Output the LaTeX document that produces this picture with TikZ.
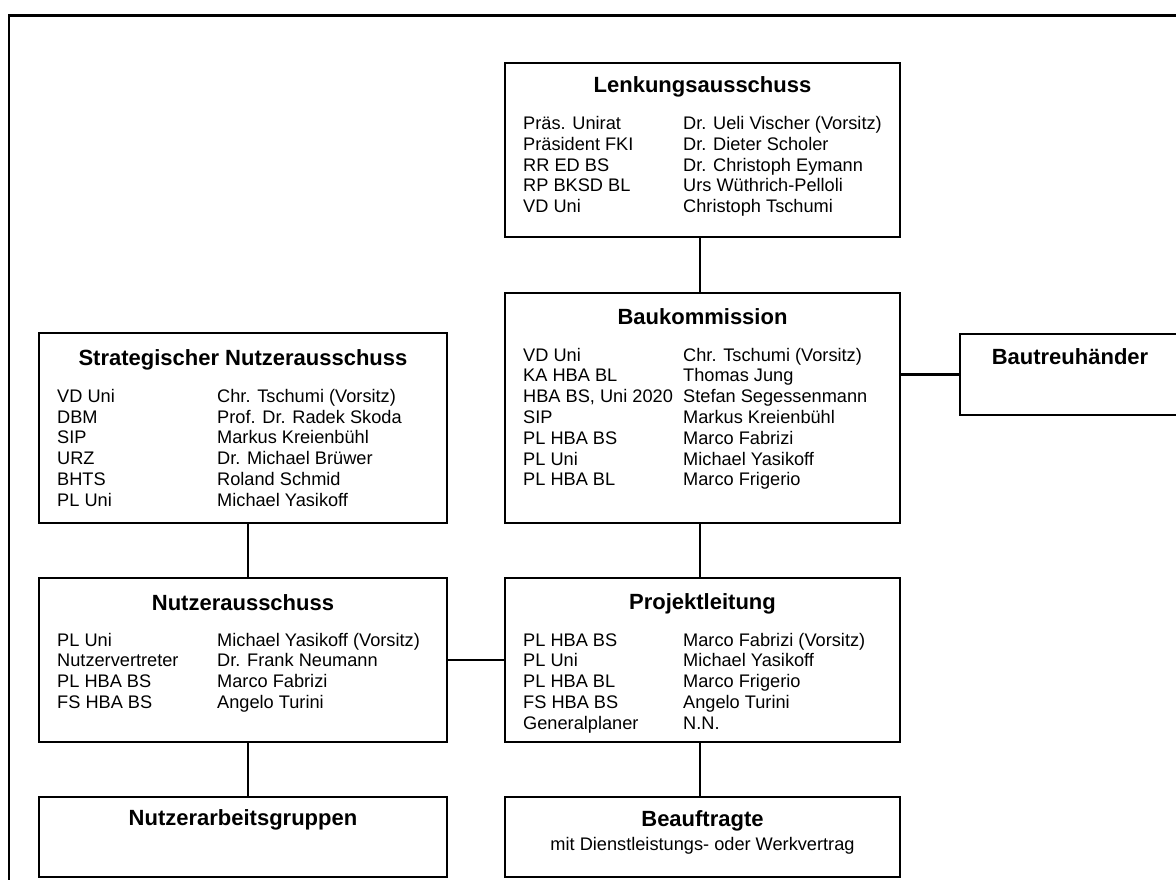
\documentclass[tikz,border=0pt]{standalone}
\usepackage{fontspec}
\setmainfont{Liberation Sans}
\usepackage{array}
\tikzset{
  orgbox/.style={draw=black, line width=2.2pt, inner sep=0pt, outer sep=0pt},
  boxtitle/.style={font=\fontsize{22}{26}\selectfont\bfseries, anchor=base, inner sep=0pt},
  members/.style={font=\fontsize{18.2}{20.8}\selectfont, anchor=base west, inner sep=0pt},
  subline/.style={font=\fontsize{18.2}{20.8}\selectfont, anchor=base, inner sep=0pt},
  link/.style={draw=black, line width=2.2pt},
  frameline/.style={draw=black, line width=2.6pt},
}
\newcommand{\memtab}[1]{\begin{tabular}[t]{@{}p{160pt}@{}l@{}}#1\end{tabular}}
\begin{document}
\begin{tikzpicture}[x=1pt,y=-1pt]
\useasboundingbox (0,0) rectangle (1176,880);
\fill[white] (0,0) rectangle (1176,880);
% outer frame
\draw[frameline] (9,885) -- (9,15.5) -- (1185,15.5);

% boxes
\node[orgbox, minimum width=395pt, minimum height=174pt] (lenk) at (702.5,150) {};
\node[orgbox, minimum width=395pt, minimum height=230pt] (bau) at (702.5,408) {};
\node[orgbox, minimum width=220pt, minimum height=81pt] (treu) at (1070,374.5) {};
\node[orgbox, minimum width=408pt, minimum height=190pt] (sna) at (243,428) {};
\node[orgbox, minimum width=408pt, minimum height=164pt] (na) at (243,660) {};
\node[orgbox, minimum width=395pt, minimum height=164pt] (pl) at (702.5,660) {};
\node[orgbox, minimum width=408pt, minimum height=80pt] (nag) at (243,837) {};
\node[orgbox, minimum width=395pt, minimum height=80pt] (bea) at (702.5,837) {};

% titles
\node[boxtitle] (lenkT) at (702.5,93) {Lenkungsausschuss};
\node[boxtitle] (bauT) at (702.5,324) {Baukommission};
\node[boxtitle] (treuT) at (1070,364) {Bautreuhänder};
\node[boxtitle] (snaT) at (243,365) {Strategischer Nutzerausschuss};
\node[boxtitle] (naT) at (243,610) {Nutzerausschuss};
\node[boxtitle] (plT) at (702.5,609.5) {Projektleitung};
\node[boxtitle] (nagT) at (243,825) {Nutzerarbeitsgruppen};
\node[boxtitle] (beaT) at (702.5,826) {Beauftragte};
\node[subline] (beaS) at (702.5,850) {mit Dienstleistungs- oder Werkvertrag};

% member lists
\node[members] (lenkM) at (523,129.5) {\memtab{%
Präs. Unirat & Dr. Ueli Vischer (Vorsitz)\\
Präsident FKI & Dr. Dieter Scholer\\
RR ED BS & Dr. Christoph Eymann\\
RP BKSD BL & Urs Wüthrich-Pelloli\\
VD Uni & Christoph Tschumi}};

\node[members] (bauM) at (523,361) {\memtab{%
VD Uni & Chr. Tschumi (Vorsitz)\\
KA HBA BL & Thomas Jung\\
HBA BS, Uni 2020 & Stefan Segessenmann\\
SIP & Markus Kreienbühl\\
PL HBA BS & Marco Fabrizi\\
PL Uni & Michael Yasikoff\\
PL HBA BL & Marco Frigerio}};

\node[members] (snaM) at (57,402.3) {\memtab{%
VD Uni & Chr. Tschumi (Vorsitz)\\
DBM & Prof. Dr. Radek Skoda\\
SIP & Markus Kreienbühl\\
URZ & Dr. Michael Brüwer\\
BHTS & Roland Schmid\\
PL Uni & Michael Yasikoff}};

\node[members] (naM) at (57,646) {\memtab{%
PL Uni & Michael Yasikoff (Vorsitz)\\
Nutzervertreter & Dr. Frank Neumann\\
PL HBA BS & Marco Fabrizi\\
FS HBA BS & Angelo Turini}};

\node[members] (plM) at (523,646) {\memtab{%
PL HBA BS & Marco Fabrizi (Vorsitz)\\
PL Uni & Michael Yasikoff\\
PL HBA BL & Marco Frigerio\\
FS HBA BS & Angelo Turini\\
Generalplaner & N.N.}};

% connectors
\draw[link] ([xshift=-2.5pt]lenk.south) -- ([xshift=-2.5pt]bau.north);
\draw[link] (bau.east |- treu.west) -- (treu.west);
\draw[link] ([xshift=5pt]sna.south) -- ([xshift=5pt]na.north);
\draw[link] (na.east) -- (pl.west);
\draw[link] ([xshift=-2.5pt]bau.south) -- ([xshift=-2.5pt]pl.north);
\draw[link] ([xshift=5pt]na.south) -- ([xshift=5pt]nag.north);
\draw[link] ([xshift=-2.5pt]pl.south) -- ([xshift=-2.5pt]bea.north);
\end{tikzpicture}
\end{document}
